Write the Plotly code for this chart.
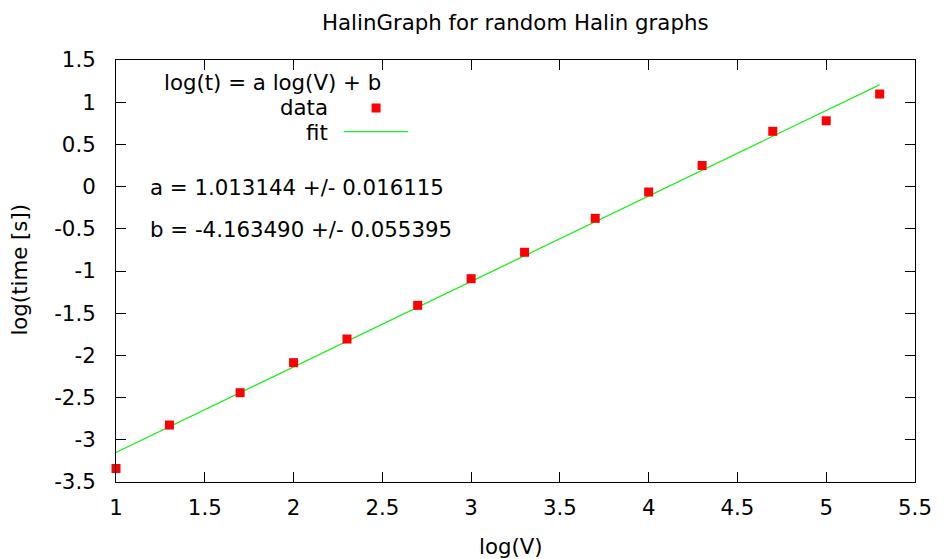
import plotly.graph_objects as go

# ---- data ----
log_v = [1.0, 1.301, 1.699, 2.0, 2.301, 2.699, 3.0, 3.301, 3.699, 4.0, 4.301, 4.699, 5.0, 5.301]
log_t = [-3.34, -2.825, -2.442, -2.086, -1.806, -1.407, -1.091, -0.778, -0.376, -0.064, 0.25, 0.655, 0.78, 1.097]

fit_a = 1.013144
fit_b = -4.163490
fit_x = [1.0, 5.3]
fit_y = [fit_a * x + fit_b for x in fit_x]

x_tickvals = [1, 1.5, 2, 2.5, 3, 3.5, 4, 4.5, 5, 5.5]
x_ticktext = ["1", "1.5", "2", "2.5", "3", "3.5", "4", "4.5", "5", "5.5"]
y_tickvals = [-3.5, -3, -2.5, -2, -1.5, -1, -0.5, 0, 0.5, 1, 1.5]
y_ticktext = ["-3.5", "-3", "-2.5", "-2", "-1.5", "-1", "-0.5", "0", "0.5", "1", "1.5"]

title_text = "HalinGraph for random Halin graphs"
x_label = "log(V)"
y_label = "log(time [s])"
legend_title = "log(t) = a log(V) + b"
stat_a = "a = 1.013144 +/- 0.016115"
stat_b = "b = -4.163490 +/- 0.055395"

FONT = "DejaVu Sans"
FS = 21.3
RED = "#ff0000"
GREEN = "#22ee22"

W, H = 944, 559
L, R, T, B = 116, 920, 60, 482


def px(xp):
    return (xp - L) / (R - L)


def py(yp):
    return (B - yp) / (B - T)


fig = go.Figure()
fig.add_trace(go.Scatter(x=fit_x, y=fit_y, mode="lines",
                         line=dict(color=GREEN, width=1.3), showlegend=False))
fig.add_trace(go.Scatter(x=log_v, y=log_t, mode="markers",
                         marker=dict(symbol="square", size=9, color=RED, line=dict(width=0)),
                         showlegend=False, cliponaxis=False))

axis_common = dict(showgrid=False, zeroline=False, showline=True, linecolor="black",
                   linewidth=1, mirror="ticks", ticks="inside", ticklen=10,
                   tickcolor="black", tickwidth=1,
                   tickfont=dict(family=FONT, size=FS, color="black"))

fig.update_layout(
    width=W, height=H,
    margin=dict(l=L, r=W - R, t=T, b=H - B, pad=0),
    paper_bgcolor="white", plot_bgcolor="white",
    font=dict(family=FONT, size=FS, color="black"),
    xaxis=dict(range=[1, 5.5], tickvals=x_tickvals, ticktext=x_ticktext,
               ticklabelstandoff=6, **axis_common),
    yaxis=dict(range=[-3.5, 1.5], tickvals=y_tickvals, ticktext=y_ticktext,
               ticklabelstandoff=15, **axis_common),
    showlegend=False,
)

annots = [
    dict(text=title_text, x=0.5, y=py(23), xanchor="center", yanchor="middle"),
    dict(text=x_label, x=px(513), y=py(546), xanchor="center", yanchor="middle"),
    dict(text=y_label, x=px(18), y=py(270), xanchor="center", yanchor="middle", textangle=-90),
    dict(text=legend_title, x=px(273), y=py(83), xanchor="center", yanchor="middle"),
    dict(text="data", x=px(331), y=py(108), xanchor="right", yanchor="middle"),
    dict(text="fit", x=px(331), y=py(132), xanchor="right", yanchor="middle"),
    dict(text=stat_a, x=px(148), y=py(187), xanchor="left", yanchor="middle"),
    dict(text=stat_b, x=px(148), y=py(229), xanchor="left", yanchor="middle"),
]
for a in annots:
    fig.add_annotation(xref="paper", yref="paper", showarrow=False,
                       font=dict(family=FONT, size=FS, color="black"), **a)

# legend samples
fig.add_shape(type="rect", xref="paper", yref="paper",
              xsizemode="pixel", ysizemode="pixel",
              xanchor=px(377.7), yanchor=py(108),
              x0=-4.5, x1=4.5, y0=-4.5, y1=4.5,
              fillcolor=RED, line=dict(width=0))
fig.add_shape(type="line", xref="paper", yref="paper",
              x0=px(345), x1=px(410), y0=py(131.7), y1=py(131.7),
              line=dict(color=GREEN, width=1.3))

fig.write_html("out.html")
